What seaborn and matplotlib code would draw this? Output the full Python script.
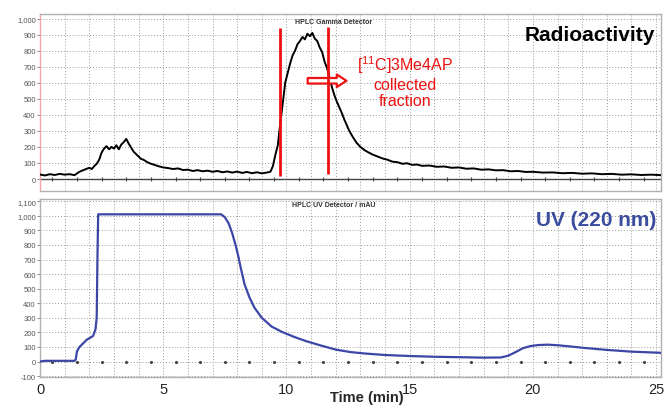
import seaborn as sns
import matplotlib.pyplot as plt
import matplotlib.ticker as mticker
import numpy as np

# radioactivity trace (gamma detector)
t_rad = [0.0, 0.2, 0.4, 0.6, 0.8, 1.0, 1.2, 1.4, 1.6, 1.8, 2.0, 2.1, 2.2, 2.3, 2.4, 2.5,
         2.6, 2.7, 2.8, 2.9, 3.0, 3.1, 3.2, 3.3, 3.4, 3.5, 3.6, 3.7, 3.8, 3.9, 4.0, 4.1,
         4.2, 4.35, 4.5, 4.65, 4.8, 5.0, 5.2, 5.4, 5.6, 5.8, 6.0, 6.2, 6.4, 6.6, 6.8, 7.0,
         7.2, 7.4, 7.6, 7.8, 8.0, 8.2, 8.4, 8.6, 8.8, 9.0, 9.2, 9.35, 9.45, 9.55, 9.65, 9.75,
         9.85, 9.95, 10.05, 10.15, 10.25, 10.35, 10.45, 10.55, 10.65, 10.75, 10.85, 10.95,
         11.05, 11.15, 11.25, 11.35, 11.45, 11.55, 11.65, 11.75, 11.85, 11.95, 12.05, 12.15,
         12.25, 12.35, 12.45, 12.55, 12.7, 12.85, 13.0, 13.15, 13.3, 13.5, 13.7, 13.9, 14.1,
         14.3, 14.5, 14.7, 14.9, 15.1, 15.3, 15.5, 15.8, 16.1, 16.4, 16.7, 17.0, 17.3, 17.6,
         17.9, 18.2, 18.5, 18.8, 19.1, 19.4, 19.7, 20.0, 20.4, 20.8, 21.2, 21.6, 22.0, 22.4,
         22.8, 23.2, 23.6, 24.0, 24.4, 24.8, 25.2]
rad = [28, 22, 30, 25, 32, 27, 30, 24, 45, 58, 70, 62, 80, 95, 120, 165,
       190, 205, 185, 200, 190, 210, 185, 215, 230, 250, 220, 195, 170, 155, 140, 125,
       120, 105, 95, 88, 80, 72, 68, 62, 66, 56, 58, 50, 55, 48, 52, 45,
       50, 42, 47, 40, 46, 38, 44, 36, 42, 35, 40, 45, 80, 150, 210, 350,
       470, 600, 660, 720, 770, 800, 840, 860, 885, 870, 905, 890,
       910, 875, 860, 820, 790, 730, 690, 630, 570, 520, 480, 445,
       410, 370, 335, 300, 260, 225, 200, 182, 168, 152, 140, 128, 120,
       108, 105, 95, 98, 88, 90, 82, 84, 76, 78, 70, 72, 64, 66,
       58, 60, 54, 55, 48, 50, 44, 45, 40, 41, 36, 38, 33, 35,
       30, 32, 27, 29, 25, 27, 24]

# UV 220 nm trace
t_uv = [0, 0.2, 1.4, 1.45, 1.5, 1.6, 1.75, 1.9, 2.05, 2.15, 2.25, 2.3, 2.33, 2.36, 2.4,
        7.35, 7.5, 7.65, 7.8, 7.95, 8.05, 8.15, 8.3, 8.5, 8.7,
        9.0, 9.4, 9.8, 10.3, 10.8, 11.4, 12.0, 12.6, 13.2, 14.0,
        15.0, 16.0, 17.0, 18.0, 18.7, 19.0, 19.3, 19.6, 19.9, 20.2,
        20.6, 21.0, 21.5, 22.0, 23.0, 24.0, 25.2]
uv = [0, 5, 5, 15, 70, 100, 125, 150, 165, 175, 220, 300, 700, 1010, 1010,
      1010, 990, 950, 880, 790, 720, 640, 530, 440, 370,
      300, 240, 205, 170, 140, 110, 82, 65, 55, 45,
      38, 33, 30, 27, 28, 40, 65, 92, 106, 113,
      116, 112, 104, 95, 80, 68, 60]

cut_times = [9.75, 11.7]
x_ticks = [0, 5, 10, 15, 20, 25]

sns.set_style('white')
plt.rcParams['font.family'] = ['Liberation Sans', 'DejaVu Sans']
plt.rcParams['mathtext.fontset'] = 'custom'
plt.rcParams['mathtext.rm'] = 'Liberation Sans'

fig = plt.figure(figsize=(6.67, 4.06), dpi=100)
ax1 = fig.add_axes([0.06, 0.527, 0.931, 0.436])
ax2 = fig.add_axes([0.06, 0.07, 0.931, 0.437])

fmt = mticker.FuncFormatter(lambda v, p: f'{v:,.0f}')
halves = np.arange(0.5, 25.2, 1.0)

for ax in (ax1, ax2):
    ax.set_xlim(0, 25.2)
    ax.xaxis.set_major_locator(mticker.FixedLocator(x_ticks))
    ax.xaxis.set_minor_locator(mticker.MultipleLocator(1))
    ax.yaxis.set_major_locator(mticker.MultipleLocator(100))
    ax.yaxis.set_major_formatter(fmt)
    ax.grid(which='both', axis='x', ls=(0, (1, 2)), color='#9a9a9a', lw=0.7)
    ax.grid(which='major', axis='y', ls=(0, (1, 2)), color='#9a9a9a', lw=0.7)
    ax.tick_params(axis='y', labelsize=5.5, labelcolor='#555555', length=2, width=0.6,
                   color='#777777', pad=1, left=True)
    for s in ax.spines.values():
        s.set_color('#b0b0b0')
        s.set_linewidth(1.0)

ax1.set_ylim(-75, 1028)
ax2.set_ylim(-103, 1114)
ax1.spines['left'].set_color('#f3a3a3')
ax1.tick_params(axis='x', which='both', length=0, labelbottom=False)
ax2.tick_params(axis='x', which='both', length=0, labelsize=10.5, pad=4)

# baselines with half-minute marks
ax1.axhline(0, color='#444444', lw=1.0, zorder=1)
ax1.plot(halves, np.zeros_like(halves), ls='none', marker='|', ms=3, color='#444444', mew=0.8)
ax2.plot(halves, np.zeros_like(halves), ls='none', marker='.', ms=2.5, color='#444444')

sns.lineplot(x=t_rad, y=rad, ax=ax1, color='black', lw=1.4, zorder=3)
sns.lineplot(x=t_uv, y=uv, ax=ax2, color='#3c46a6', lw=1.6, zorder=3)

# collected fraction markers
ax1.vlines(cut_times, [20, 30], [940, 945], color='#ee1111', lw=2, zorder=5)
ax1.annotate('', xy=(12.55, 612), xytext=(10.75, 612), zorder=4,
             arrowprops=dict(arrowstyle='simple,head_width=0.9,head_length=0.7,tail_width=0.4',
                             fc='white', ec='#ee1111', lw=1.6))
ax1.text(14.8, 612, '[$^{11}$C]3Me4AP\ncollected\nfraction', color='#ee1111',
         ha='center', va='center', fontsize=11.5, linespacing=1.15)

ax1.text(0.99, 0.887, 'Radioactivity', transform=ax1.transAxes, ha='right', va='center',
         fontsize=15, fontweight='bold', color='black')
ax2.text(0.993, 0.887, 'UV (220 nm)', transform=ax2.transAxes, ha='right', va='center',
         fontsize=15, fontweight='bold', color='#3a4c9e')
ax1.text(0.473, 0.96, 'HPLC Gamma Detector', transform=ax1.transAxes, ha='center',
         va='center', fontsize=5, fontweight='bold', color='#333333')
ax2.text(0.473, 0.972, 'HPLC UV Detector / mAU', transform=ax2.transAxes, ha='center',
         va='center', fontsize=5, fontweight='bold', color='#333333')
ax1.set_ylabel('')
ax2.set_ylabel('')
fig.text(0.55, 0.002, 'Time (min)', ha='center', va='bottom', fontsize=10.5, fontweight='bold')

fig.savefig('out.png', dpi=100, facecolor='white')
